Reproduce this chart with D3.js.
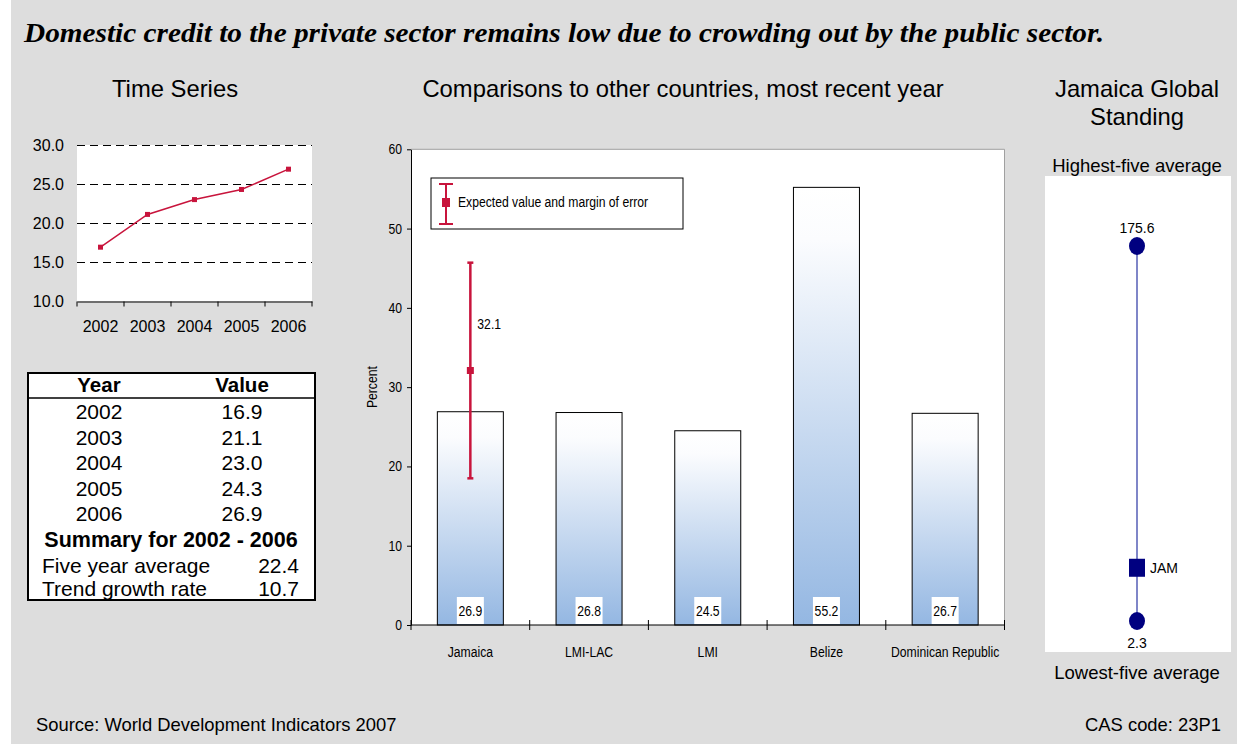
<!DOCTYPE html>
<html>
<head>
<meta charset="utf-8">
<script src="https://cdn.jsdelivr.net/npm/d3@7"></script>
<style>
  html, body { margin: 0; padding: 0; background: #dddddd; }
  svg { display: block; }
  text { font-family: "Liberation Sans", Arial, sans-serif; fill: #000; }
</style>
</head>
<body>
<svg id="chart" width="1237" height="744"></svg>
<script>
// ---- data ----
const years = ["2002", "2003", "2004", "2005", "2006"];
const creditValues = [16.9, 21.1, 23.0, 24.3, 26.9];
const timeTicks = [10, 15, 20, 25, 30];
const summaryLabels = ["Five year average", "Trend growth rate"];
const summaryValues = [22.4, 10.7];

const countries = ["Jamaica", "LMI-LAC", "LMI", "Belize", "Dominican Republic"];
const countryValues = [26.9, 26.8, 24.5, 55.2, 26.7];
const percentTicks = [0, 10, 20, 30, 40, 50, 60];
const expectedValue = 32.1;
const errorRange = [18.5, 45.7];

const standingLabels = ["Lowest-five average", "Highest-five average"];
const standingValues = [2.3, 175.6];
const standingCountry = "JAM";
const standingCountryValue = 26.9;

const RED = "#c8143c";
const NAVY = "#000080";

const svg = d3.select("#chart");

// condensed label: regular sans squeezed horizontally
function narrow(parent, x, y, str, anchor = "start", size = 14) {
  return parent.append("text")
    .attr("transform", `translate(${x},${y}) scale(0.87,1)`)
    .attr("text-anchor", anchor)
    .style("font-size", size + "px")
    .text(str);
}

// background
svg.append("rect").attr("width", 1237).attr("height", 744).attr("fill", "#dddddd");
svg.append("rect").attr("width", 11).attr("height", 744).attr("fill", "#ffffff");

// headline
svg.append("text")
  .attr("x", 24).attr("y", 42)
  .attr("textLength", 1080).attr("lengthAdjust", "spacingAndGlyphs")
  .style("font-family", "'Liberation Serif', 'Times New Roman', serif")
  .style("font-weight", "bold").style("font-style", "italic")
  .style("font-size", "27px")
  .text("Domestic credit to the private sector remains low due to crowding out by the public sector.");

// section titles
const heads = [
  { t: "Time Series", x: 175, y: 97 },
  { t: "Comparisons to other countries, most recent year", x: 683, y: 97 },
  { t: "Jamaica Global", x: 1137, y: 97 },
  { t: "Standing", x: 1137, y: 125 }
];
svg.selectAll("text.head").data(heads).join("text")
  .attr("class", "head")
  .attr("x", d => d.x).attr("y", d => d.y)
  .attr("text-anchor", "middle")
  .style("font-size", "23.8px")
  .text(d => d.t);

// ---- time series ----
const tsX = d3.scaleBand().domain(years).range([77, 312]);
const tsY = d3.scaleLinear().domain([10, 30]).range([301, 145]);

svg.append("rect")
  .attr("x", tsX.range()[0]).attr("y", tsY(30))
  .attr("width", tsX.range()[1] - tsX.range()[0]).attr("height", tsY(10) - tsY(30))
  .attr("fill", "#ffffff");

// dashed gridlines
svg.append("g").selectAll("line").data(timeTicks.filter(v => v > 10)).join("line")
  .attr("x1", 77).attr("x2", 312)
  .attr("y1", d => tsY(d) + 0.5).attr("y2", d => tsY(d) + 0.5)
  .attr("stroke", "#000").attr("stroke-width", 1)
  .attr("stroke-dasharray", "8,5");

// y labels
svg.append("g").selectAll("text").data(timeTicks).join("text")
  .attr("x", 64).attr("y", d => tsY(d) + 6)
  .attr("text-anchor", "end")
  .style("font-size", "16px")
  .text(d => d3.format(".1f")(d));

// x axis
const tsAxis = svg.append("g").attr("transform", `translate(0,${tsY(10) + 0.5})`)
  .call(d3.axisBottom(tsX).tickSize(0).tickPadding(19).tickSizeOuter(0));
tsAxis.select(".domain").attr("stroke", "#000");
tsAxis.selectAll("text").style("font-size", "16px").style("font-family", "'Liberation Sans', Arial, sans-serif").attr("fill", "#000");
const tsBounds = years.map(y => tsX(y)).concat([tsX.range()[1]]);
tsAxis.selectAll("line.bnd").data(tsBounds).join("line")
  .attr("class", "bnd")
  .attr("x1", d => d).attr("x2", d => d).attr("y1", 0).attr("y2", 5)
  .attr("stroke", "#000");

// line and markers
const tsLine = d3.line()
  .x((d, i) => tsX(years[i]) + tsX.bandwidth() / 2)
  .y(d => tsY(d));
svg.append("path").datum(creditValues)
  .attr("d", tsLine).attr("fill", "none")
  .attr("stroke", RED).attr("stroke-width", 1.5);
svg.append("g").selectAll("rect").data(creditValues).join("rect")
  .attr("x", (d, i) => tsX(years[i]) + tsX.bandwidth() / 2 - 2.5)
  .attr("y", d => tsY(d) - 2.5)
  .attr("width", 5).attr("height", 5).attr("fill", RED);

// ---- table ----
const tbl = svg.append("g");
tbl.append("rect").attr("x", 28).attr("y", 373).attr("width", 287).attr("height", 227)
  .attr("fill", "#ffffff").attr("stroke", "#000").attr("stroke-width", 2);
tbl.append("line").attr("x1", 28).attr("x2", 315).attr("y1", 398).attr("y2", 398)
  .attr("stroke", "#000").attr("stroke-width", 1.5);
tbl.append("text").attr("x", 99).attr("y", 392).attr("text-anchor", "middle")
  .style("font-size", "20.5px").style("font-weight", "bold").text("Year");
tbl.append("text").attr("x", 242).attr("y", 392).attr("text-anchor", "middle")
  .style("font-size", "20.5px").style("font-weight", "bold").text("Value");
const rowY = i => 419 + i * 25.6;
tbl.selectAll("text.yr").data(years).join("text").attr("class", "yr")
  .attr("x", 99).attr("y", (d, i) => rowY(i)).attr("text-anchor", "middle")
  .style("font-size", "21px").text(d => d);
tbl.selectAll("text.val").data(creditValues).join("text").attr("class", "val")
  .attr("x", 242).attr("y", (d, i) => rowY(i)).attr("text-anchor", "middle")
  .style("font-size", "21px").text(d => d3.format(".1f")(d));
tbl.append("text").attr("x", 171).attr("y", rowY(5)).attr("text-anchor", "middle")
  .style("font-size", "21.5px").style("font-weight", "bold")
  .text(`Summary for ${years[0]} - ${years[years.length - 1]}`);
tbl.selectAll("text.sl").data(summaryLabels).join("text").attr("class", "sl")
  .attr("x", 42).attr("y", (d, i) => rowY(6 + i) - (i ? 2 : 0))
  .style("font-size", "21px").text(d => d);
tbl.selectAll("text.sv").data(summaryValues).join("text").attr("class", "sv")
  .attr("x", 299).attr("y", (d, i) => rowY(6 + i) - (i ? 2 : 0)).attr("text-anchor", "end")
  .style("font-size", "21px").text(d => d3.format(".1f")(d));

// ---- comparison bar chart ----
const bx = d3.scaleBand().domain(countries).range([411, 1004.5]).paddingInner(0).paddingOuter(0);
const by = d3.scaleLinear().domain([0, 60]).range([625, 149.3]);

const defs = svg.append("defs");
const grad = defs.append("linearGradient").attr("id", "barFill")
  .attr("x1", 0).attr("y1", 0).attr("x2", 0).attr("y2", 1);
grad.append("stop").attr("offset", "0%").attr("stop-color", "#ffffff");
grad.append("stop").attr("offset", "12%").attr("stop-color", "#fbfcfe");
grad.append("stop").attr("offset", "100%").attr("stop-color", "#94b7e2");

// plot area
svg.append("rect")
  .attr("x", bx.range()[0]).attr("y", by(60))
  .attr("width", bx.range()[1] - bx.range()[0]).attr("height", by(0) - by(60))
  .attr("fill", "#ffffff");
svg.append("path")
  .attr("d", `M${bx.range()[0]},${by(60)}H${bx.range()[1]}V${by(0)}`)
  .attr("fill", "none").attr("stroke", "#a0a0a0").attr("stroke-width", 1);

const barW = bx.bandwidth() * 0.556;
svg.append("g").selectAll("rect").data(countryValues).join("rect")
  .attr("x", (d, i) => bx(countries[i]) + (bx.bandwidth() - barW) / 2)
  .attr("y", d => by(d))
  .attr("width", barW).attr("height", d => by(0) - by(d))
  .attr("fill", "url(#barFill)").attr("stroke", "#000").attr("stroke-width", 1);

// value labels
const vlg = svg.append("g");
countryValues.forEach((v, i) => {
  const cx = bx(countries[i]) + bx.bandwidth() / 2;
  vlg.append("rect").attr("x", cx - 13.5).attr("y", by(0) - 28).attr("width", 27).attr("height", 27).attr("fill", "#ffffff");
  narrow(vlg, cx, by(0) - 9, d3.format(".1f")(v), "middle");
});

// y axis
const yAx = svg.append("g").attr("transform", `translate(${bx.range()[0]},0)`)
  .call(d3.axisLeft(by).tickValues(percentTicks).tickSize(4).tickSizeOuter(0).tickFormat(() => ""));
yAx.select(".domain").attr("stroke", "#000");
yAx.selectAll(".tick line").attr("stroke", "#000");
percentTicks.forEach(t => narrow(svg, bx.range()[0] - 9, by(t) + 5, String(t), "end"));

svg.append("text")
  .attr("transform", `translate(377,${by(30)}) rotate(-90) scale(0.87,1)`)
  .attr("text-anchor", "middle").style("font-size", "14px").text("Percent");

// x axis
const xAx = svg.append("g").attr("transform", `translate(0,${by(0)})`);
xAx.append("line").attr("x1", bx.range()[0]).attr("x2", bx.range()[1])
  .attr("stroke", "#000").attr("stroke-width", 1.2);
const bBounds = countries.map(c => bx(c)).concat([bx.range()[1]]);
xAx.selectAll("line.bt").data(bBounds).join("line").attr("class", "bt")
  .attr("x1", d => d).attr("x2", d => d).attr("y1", -5).attr("y2", 5)
  .attr("stroke", "#000");
countries.forEach(c => narrow(xAx, bx(c) + bx.bandwidth() / 2, 32, c, "middle"));

// error bar for expected value
const ex = bx(countries[0]) + bx.bandwidth() / 2;
const eb = svg.append("g").attr("stroke", RED).attr("fill", RED);
eb.append("line").attr("x1", ex).attr("x2", ex).attr("y1", by(errorRange[0])).attr("y2", by(errorRange[1]))
  .attr("stroke-width", 2.5);
eb.selectAll("line.cap").data(errorRange).join("line").attr("class", "cap")
  .attr("x1", ex - 3).attr("x2", ex + 3).attr("y1", d => by(d)).attr("y2", d => by(d)).attr("stroke-width", 2.5);
eb.append("rect").attr("x", ex - 3.5).attr("y", by(expectedValue) - 3.5).attr("width", 7).attr("height", 7).attr("stroke", "none");
narrow(svg, ex + 7, by(expectedValue) - 42, d3.format(".1f")(expectedValue));

// legend
const lg = svg.append("g").attr("transform", "translate(431,178)");
lg.append("rect").attr("width", 252).attr("height", 51).attr("fill", "#ffffff").attr("stroke", "#000");
lg.append("line").attr("x1", 15).attr("x2", 15).attr("y1", 6).attr("y2", 46).attr("stroke", RED).attr("stroke-width", 2);
lg.append("line").attr("x1", 8).attr("x2", 22).attr("y1", 6).attr("y2", 6).attr("stroke", RED).attr("stroke-width", 2);
lg.append("line").attr("x1", 8).attr("x2", 22).attr("y1", 46).attr("y2", 46).attr("stroke", RED).attr("stroke-width", 2);
lg.append("rect").attr("x", 11).attr("y", 20).attr("width", 8).attr("height", 9).attr("fill", RED);
narrow(lg, 27, 29, "Expected value and margin of error");

// ---- global standing ----
const sy = d3.scaleLinear().domain(standingValues).range([621, 246]);
const sx = 1137;
svg.append("rect").attr("x", 1045).attr("y", 176).attr("width", 186).attr("height", 476).attr("fill", "#ffffff");
svg.append("text").attr("x", sx).attr("y", 172).attr("text-anchor", "middle")
  .style("font-size", "18.5px").text(standingLabels[1]);
svg.append("text").attr("x", sx).attr("y", 679).attr("text-anchor", "middle")
  .style("font-size", "18.5px").text(standingLabels[0]);
svg.append("line").attr("x1", sx).attr("x2", sx)
  .attr("y1", sy(standingValues[0])).attr("y2", sy(standingValues[1]))
  .attr("stroke", "#7f86c8").attr("stroke-width", 2);
svg.append("g").selectAll("ellipse").data(standingValues).join("ellipse")
  .attr("cx", sx).attr("cy", d => sy(d)).attr("rx", 8).attr("ry", 9).attr("fill", NAVY);
svg.append("text").attr("x", sx).attr("y", sy(standingValues[1]) - 13).attr("text-anchor", "middle")
  .style("font-size", "14px").text(d3.format(".1f")(standingValues[1]));
svg.append("text").attr("x", sx).attr("y", sy(standingValues[0]) + 27).attr("text-anchor", "middle")
  .style("font-size", "14px").text(d3.format(".1f")(standingValues[0]));
svg.append("rect").attr("x", sx - 8).attr("y", sy(standingCountryValue) - 9)
  .attr("width", 16).attr("height", 18).attr("fill", NAVY);
svg.append("text").attr("x", sx + 13).attr("y", sy(standingCountryValue) + 5)
  .style("font-size", "14px").text(standingCountry);

// ---- footer ----
svg.append("text").attr("x", 36).attr("y", 731).style("font-size", "18.4px")
  .text("Source: World Development Indicators 2007");
svg.append("text").attr("x", 1221).attr("y", 731).attr("text-anchor", "end").style("font-size", "18.4px")
  .text("CAS code: 23P1");
</script>
</body>
</html>
